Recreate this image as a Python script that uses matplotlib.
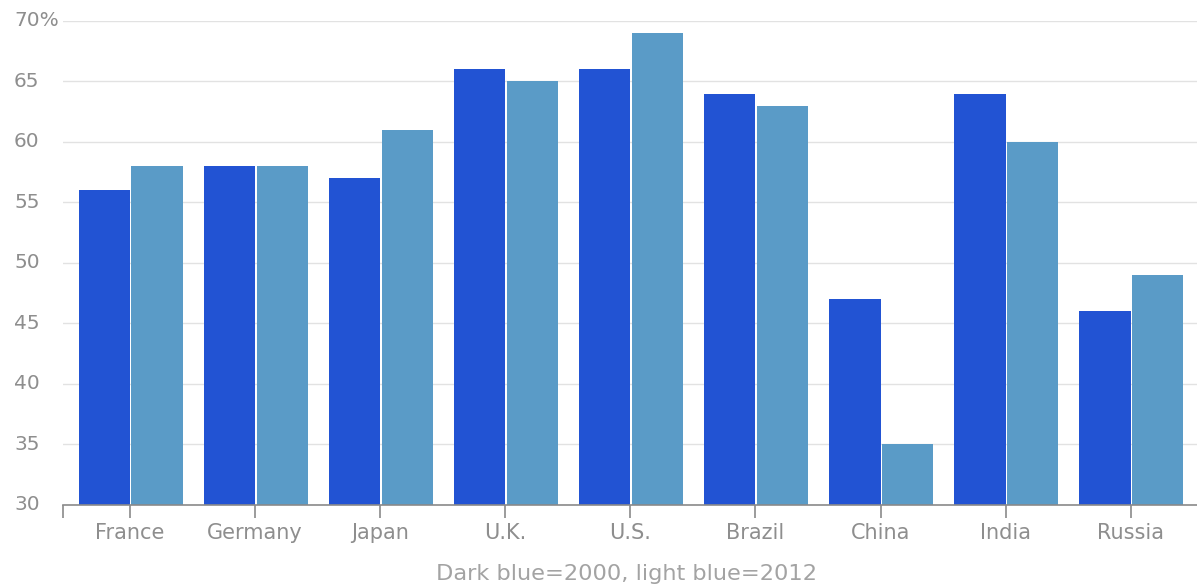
import matplotlib
matplotlib.use("Agg")
import matplotlib.pyplot as plt
import matplotlib.transforms as mtransforms
import numpy as np

categories = ["France", "Germany", "Japan", "U.K.", "U.S.", "Brazil", "China", "India", "Russia"]
values_2000 = [56, 58, 57, 66, 66, 64, 47, 64, 46]
values_2012 = [58, 58, 61, 65, 69, 63, 35, 60, 49]
ytick_values = [30, 35, 40, 45, 50, 55, 60, 65, 70]
ytick_labels = ["30", "35", "40", "45", "50", "55", "60", "65", "70%"]
caption = "Dark blue=2000, light blue=2012"

dark = "#2253d3"
light = "#5a9bc7"
grey_text = "#8e8e8e"

plt.rcParams['font.family'] = ['DejaVu Sans']

W, H = 1197, 587
fig = plt.figure(figsize=(W / 100, H / 100), dpi=100)
ax = fig.add_axes([63 / W, 1 - 505 / H, 1 - 63 / W, (505 - 21) / H])

x = np.arange(len(categories))
bw = 0.41
ax.bar(x - bw / 2, values_2000, width=bw, color=dark, zorder=3)
ax.bar(x + 0.012 + bw / 2, values_2012, width=bw, color=light, zorder=3)

ax.set_ylim(30, 70)
ax.set_xlim(-0.535, 8.53)

for s in ["top", "right", "left"]:
    ax.spines[s].set_visible(False)
ax.spines["bottom"].set_color("#8a8a8a")
ax.spines["bottom"].set_linewidth(1.2)
ax.spines["bottom"].set_zorder(4)

ax.set_yticks(ytick_values)
ax.set_yticklabels([])
ax.tick_params(axis="y", length=0)
ax.grid(axis="y", color="#e2e2e2", linewidth=1.0, zorder=0)

trans = mtransforms.blended_transform_factory(fig.transFigure, ax.transData)
for v, lab in zip(ytick_values, ytick_labels):
    ax.text(14 / W, v, lab, transform=trans, ha="left", va="center",
            fontsize=14.5, color=grey_text)

ax.set_xticks(list(x) + [-0.535])
ax.set_xticklabels(categories + [""], fontsize=15, color=grey_text)
ax.tick_params(axis="x", length=9.5, width=1.2, color="#8a8a8a", pad=3.5)

fig.text(627 / W, 1 - 574 / H, caption, ha="center", va="center",
         fontsize=16.2, color="#a3a3a3")

fig.savefig("out.png", dpi=100)
